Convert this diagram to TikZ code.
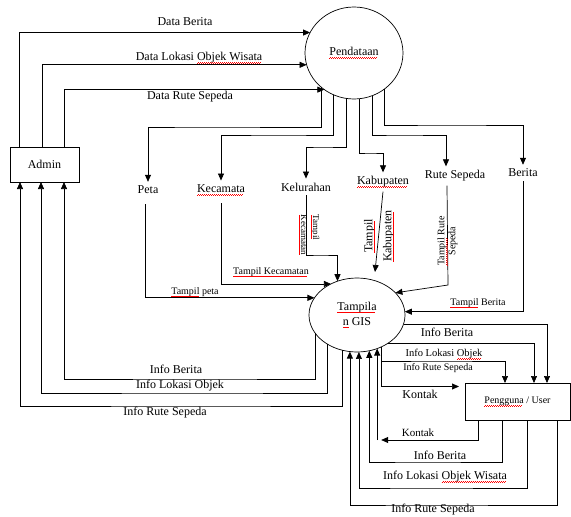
\documentclass[tikz,border=0pt]{standalone}
\usepackage{fontspec}
\setmainfont{Liberation Serif}
\usetikzlibrary{arrows.meta,shapes.geometric}

% 红色波浪下划线 (拼写检查的标记)
\newsavebox\salahbox
\newcommand{\salah}[1]{\sbox\salahbox{#1}\rlap{\usebox\salahbox}\raisebox{-2.6pt}{\color{red}\leaders\hbox to 2pt{\rule{1pt}{0.5pt}\rule[0.6pt]{1pt}{0.5pt}}\hskip\wd\salahbox}}

\tikzset{
	alur/.style={draw, line width=0.7pt, -{Triangle[length=7pt,width=6pt]}}, % 带箭头的数据流
	proses/.style={draw, line width=0.7pt, ellipse, inner sep=0pt, outer sep=0pt}, % 处理过程 (圆)
	entitas/.style={draw, line width=0.7pt, rectangle, inner sep=0pt, outer sep=0pt}, % 外部实体 (矩形)
	teks/.style={font=\fontsize{12}{15}\selectfont, inner sep=2pt}, % 大字标注
	teksk/.style={font=\fontsize{10}{11}\selectfont, inner sep=2pt}, % 小字标注
	item/.style={teks, inner sep=4pt}, % 数据存储名称
}

\begin{document}
\begin{tikzpicture}[x=1pt,y=-1pt]
	
	% 画布大小
	\useasboundingbox (0,0) rectangle (571,517);
	
	% 处理过程与外部实体
	\node[proses, minimum width=98pt, minimum height=92pt, teks] (pend) at (354,53) {\salah{Pendataan}}; % 上方的圆
	\node[proses, minimum width=96pt, minimum height=74pt, teks, align=center] (tamp) at (357,315) {\salah{Tampila}\\\salah{n} GIS}; % 下方的圆
	\node[entitas, minimum width=69pt, minimum height=35pt, teks] (admin) at (44.5,164.5) {Admin}; % 左边的矩形
	\node[entitas, minimum width=105pt, minimum height=37pt, teksk] (user) at (517.5,401.5) {\salah{Pengguna} / User}; % 右下的矩形
	
	% 数据名称
	\node[item] (peta) at (148,190) {Peta};
	\node[item] (kec) at (221,190) {\salah{Kecamata}};
	\node[item] (kel) at (306,187) {Kelurahan};
	\node[item] (kab) at (383,182) {\salah{Kabupaten}};
	\node[item] (rute) at (455,176) {Rute Sepeda};
	\node[item] (ber) at (523,173) {Berita};
	
	% 折线的高度
	\coordinate (lvlPeta) at (200,127);
	\coordinate (lvlKec) at (280,135);
	\coordinate (lvlKel) at (320,147);
	\coordinate (lvlKab) at (370,153);
	\coordinate (lvlRute) at (400,135);
	\coordinate (lvlBer) at (450,125);
	\coordinate (kelB) at (320,255);
	\coordinate (kabE) at (375,272);
	\coordinate (ruteB) at (448,285);
	\coordinate (lvlIB) at (200,379);
	\coordinate (lvlIL) at (200,393);
	\coordinate (lvlIR) at (200,406);
	\coordinate (lvlR) at (440,361);
	\coordinate (kontak) at (420,440);
	\coordinate (lvlIB2) at (420,462);
	\coordinate (lvlIL2) at (420,488);
	\coordinate (lvlIR2) at (420,505);
	
	% Admin -> Pendataan
	\draw[alur] ([xshift=-25.5pt]admin.north) |- (pend.155.6);
	\draw[alur] ([xshift=-2.5pt]admin.north) |- (pend.194.2);
	\draw[alur] ([xshift=19.5pt]admin.north) |- (pend.231.8);
	\node[teks] (tDB) at (185,22) {Data Berita};
	\node[teks] (tDL) at (199,58) {Data Lokasi \salah{Objek Wisata}};
	\node[teks] (tDR) at (190,97) {Data Rute Sepeda};
	
	% Pendataan -> 各数据
	\draw[alur] (pend.-134.1) |- (lvlPeta) -| (peta.north);
	\draw[alur] (pend.-116.8) |- (lvlKec) -| (kec.north);
	\draw[alur] (pend.-100) |- (lvlKel) -| (kel.north);
	\draw[alur] (pend.-83.8) |- (lvlKab) -| (kab.north);
	\draw[alur] (pend.-67.2) |- (lvlRute) -| ([xshift=-9pt]rute.north);
	\draw[alur] (pend.-50.5) |- (lvlBer) -| (ber.north);
	
	% 各数据 -> Tampilan GIS
	\draw[alur] ([xshift=-3pt,yshift=-6pt]peta.south) |- (tamp.158);
	\draw[alur] ([yshift=-4pt]kec.south) |- (tamp.130);
	\draw[alur] (kel.south) |- (kelB) -| (tamp.120);
	\draw[alur] (kab.south) -- (kabE);
	\draw[alur] ([xshift=-8pt]rute.south) -- (ruteB) -- (tamp.30);
	\draw[alur] (ber.south) |- (tamp.4);
	\node[teksk] (tTP) at (195,292) {\salah{Tampil} peta};
	\node[teksk] (tTK) at (271,272) {\salah{Tampil Kecamatan}};
	\node[font=\fontsize{9}{12}\selectfont, inner sep=0pt, align=left, rotate=-90] (tTKel) at (309,235) {\salah{Tampil}\\\salah{Kecamatan}};
	\node[font=\fontsize{12}{19}\selectfont, inner sep=0pt, align=center, rotate=90] (tTKab) at (379,236) {\salah{Tampil}\\\salah{Kabupaten}};
	\node[teksk, inner sep=0pt, align=center, rotate=90] (tTR) at (447.5,241) {\salah{Tampil} Rute\\Sepeda};
	\node[teksk] (tTB) at (478,303) {\salah{Tampil} Berita};
	
	% Tampilan GIS -> Admin
	\draw[alur] (tamp.203) |- (lvlIB) -| ([xshift=19.5pt]admin.south);
	\draw[alur] (tamp.225.5) |- (lvlIL) -| ([xshift=-3.5pt]admin.south);
	\draw[alur] (tamp.247) |- (lvlIR) -| ([xshift=-24.5pt]admin.south);
	\node[teks] (tIB) at (176,369) {Info Berita};
	\node[teks] (tIL) at (180,386) {Info Lokasi Objek};
	\node[teks] (tIR) at (165,413) {Info Rute Sepeda};
	
	% Tampilan GIS -> Pengguna
	\draw[alur] (tamp.-11) -| ([xshift=29.5pt]user.north);
	\draw[alur] (tamp.-42) -| ([xshift=16.5pt]user.north);
	\draw[alur] (tamp.-53) |- (lvlR) -| ([xshift=-12.5pt]user.north);
	\draw[alur, shorten >=6pt] (tamp.-53) |- ([yshift=15pt]user.west);
	\node[teks] (tIB1) at (447,332) {Info Berita};
	\node[font=\fontsize{10.5}{12}\selectfont, inner sep=2pt] (tIL1) at (444,354) {Info Lokasi \salah{Objek}};
	\node[teksk] (tIR1) at (438,368) {Info Rute Sepeda};
	\node[teks] (tK1) at (420,394) {Kontak};
	
	% Pengguna -> Tampilan GIS
	\draw[alur, shorten >=4pt] ([xshift=-39.5pt]user.south) |- (tamp.-59 |- kontak);
	\draw[alur] (tamp.-59 |- kontak) -- (tamp.-59);
	\draw[alur] ([xshift=-15pt]user.south) |- (lvlIB2) -| (tamp.-71.5);
	\draw[alur] ([xshift=9.5pt]user.south) |- (lvlIL2) -| (tamp.-87);
	\draw[alur] ([xshift=39.5pt]user.south) |- (lvlIR2) -| (tamp.-101);
	\node[font=\fontsize{11}{13}\selectfont, inner sep=2pt] (tK2) at (418,433) {Kontak};
	\node[teks] (tIB2) at (440,455) {Info Berita};
	\node[teks] (tIL2) at (445,477) {Info Lokasi \salah{Objek Wisata}};
	\node[teks] (tIR2) at (433,510) {Info Rute Sepeda};
	
\end{tikzpicture}
\end{document}
